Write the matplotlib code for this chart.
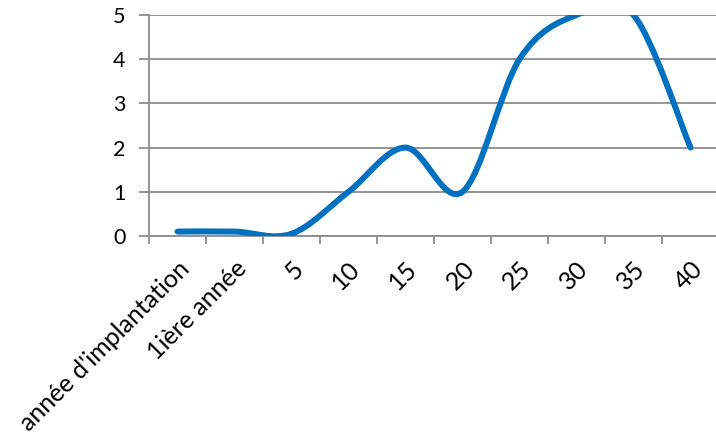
import numpy as np
import matplotlib
matplotlib.use("Agg")
import matplotlib.pyplot as plt
from matplotlib.path import Path
from matplotlib.patches import PathPatch

categories = ["année d'implantation", "1ière année", "5", "10", "15", "20", "25", "30", "35", "40"]
values = [0.1, 0.1, 0.05, 1, 2, 1, 4, 5, 5, 2]
y_ticks = [0, 1, 2, 3, 4, 5]

plt.rcParams['font.family'] = ['Lato', 'DejaVu Sans']

W, H = 716, 436
fig = plt.figure(figsize=(W / 100, H / 100), dpi=100)
left, right = 149 / W, 719 / W
bottom, top = 1 - 236 / H, 1 - 15 / H
ax = fig.add_axes([left, bottom, right - left, top - bottom])

x = np.arange(len(categories))
y = np.array(values, dtype=float)

# Excel-like smoothed line: cubic Bezier through points (Catmull-Rom tangents)
verts = [(x[0], y[0])]
codes = [Path.MOVETO]
n = len(x)
for i in range(n - 1):
    p0 = np.array([x[max(i - 1, 0)], y[max(i - 1, 0)]])
    p1 = np.array([x[i], y[i]])
    p2 = np.array([x[i + 1], y[i + 1]])
    p3 = np.array([x[min(i + 2, n - 1)], y[min(i + 2, n - 1)]])
    c1 = p1 + (p2 - p0) / 6
    c2 = p2 - (p3 - p1) / 6
    verts += [tuple(c1), tuple(c2), tuple(p2)]
    codes += [Path.CURVE4] * 3
path = Path(verts, codes)
patch = PathPatch(path, facecolor='none', edgecolor='#0070C0', lw=4.3,
                  capstyle='round', joinstyle='round', zorder=3)
ax.add_patch(patch)

ax.set_xlim(-0.5, n - 0.5)
ax.set_ylim(0, 5)

ax.set_yticks(y_ticks)
ax.set_yticklabels([str(t) for t in y_ticks], fontsize=15.5)
ax.yaxis.grid(True, color='#8c8c8c', lw=1.3)
ax.set_axisbelow(True)

ax.set_xticks(np.arange(n + 1) - 0.5)
ax.set_xticklabels([])
ax.set_xticks(x, minor=True)
ax.set_xticklabels(categories, minor=True, rotation=45, ha='right',
                   rotation_mode='anchor', fontsize=18)
ax.tick_params(axis='x', which='minor', length=0, pad=15)
ax.tick_params(axis='x', which='major', length=6, width=1.3, color='#8c8c8c')
ax.tick_params(axis='y', length=7, width=1.3, color='#8c8c8c', pad=10)

for s in ['top', 'right']:
    ax.spines[s].set_visible(False)
ax.spines['left'].set_color('#8c8c8c')
ax.spines['left'].set_linewidth(1.3)
ax.spines['bottom'].set_color('#8c8c8c')
ax.spines['bottom'].set_linewidth(1.3)

fig.savefig("out.png", dpi=100)
